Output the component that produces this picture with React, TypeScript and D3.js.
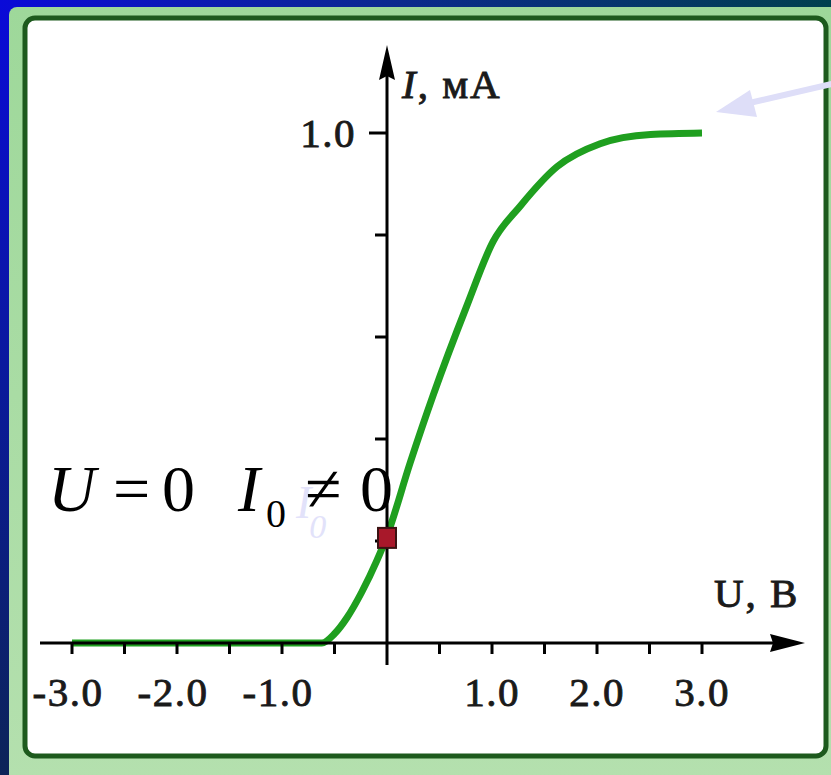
import React from "react";
import * as d3 from "d3";

// Voltage (U, V) and photocurrent (I, mA) samples along the characteristic curve
const uValues = [-3.0, -2.0, -1.0, -0.62, -0.5, -0.38, -0.24, -0.1, 0, 0.22, 0.44, 0.76, 1.01, 1.27, 1.62, 2.03, 2.51, 3.0];
const iValues = [0, 0, 0, 0, 0.018, 0.05, 0.1, 0.16, 0.21, 0.353, 0.486, 0.661, 0.787, 0.857, 0.934, 0.979, 0.997, 1.0];

// Current at zero voltage
const zeroVoltageCurrent = 0.21;

const xTickValues = [-3, -2.5, -2, -1.5, -1, -0.5, 0.5, 1, 1.5, 2, 2.5, 3];
const xTickLabels = ["-3.0", "-2.0", "-1.0", "1.0", "2.0", "3.0"];
const xLabelValues = [-3, -2, -1, 1, 2, 3];
const yTickValues = [0.2, 0.4, 0.6, 0.8, 1.0];
const yTickLabels = ["1.0"];
const yLabelValues = [1.0];

const W = 831;
const H = 775;

export default function App() {
  const x = d3.scaleLinear().domain([-3, 3]).range([72, 702]);
  const y = d3.scaleLinear().domain([0, 1]).range([643, 133]);

  const line = d3
    .line<number>()
    .x((_, i) => x(uValues[i]))
    .y((d) => y(d))
    .curve(d3.curveMonotoneX);

  const x0 = x(0);
  const y0 = y(0);
  const labelFont = "'Liberation Serif', 'Times New Roman', serif";
  const tickText = { fontFamily: labelFont, fontSize: 41, letterSpacing: 1.5, fill: "#1a1a1a", stroke: "#1a1a1a", strokeWidth: 0.9 };

  return (
    <svg width={W} height={H} style={{ position: "absolute", left: 0, top: 0 }}>
      <defs>
        <linearGradient id="bgTop" x1="0" y1="0" x2="1" y2="0">
          <stop offset="0" stopColor="#0a0ad8" />
          <stop offset="0.5" stopColor="#0a2a8a" />
          <stop offset="1" stopColor="#00404e" />
        </linearGradient>
        <linearGradient id="bgLeft" x1="0" y1="0" x2="0" y2="1">
          <stop offset="0" stopColor="#0a0ad8" />
          <stop offset="0.5" stopColor="#0a1a9a" />
          <stop offset="1" stopColor="#0c2458" />
        </linearGradient>
        <linearGradient id="frame" x1="0" y1="0" x2="0" y2="1">
          <stop offset="0" stopColor="#9ed89a" />
          <stop offset="1" stopColor="#b4e0ae" />
        </linearGradient>
      </defs>

      {/* slide background */}
      <rect x={0} y={0} width={W} height={H} fill="url(#bgLeft)" />
      <rect x={0} y={0} width={W} height={8} fill="url(#bgTop)" />

      {/* green frame */}
      <rect x={9} y={7} width={W} height={H} rx={8} fill="url(#frame)" />
      <rect x={25} y={18} width={801} height={738} rx={10} fill="#ffffff" stroke="#1d5a1d" strokeWidth={5} />

      {/* curve */}
      <path d={line(iValues) || ""} fill="none" stroke="#1f9f1f" strokeWidth={7} strokeLinejoin="round" strokeLinecap="butt" />

      {/* x axis */}
      <line x1={40} x2={790} y1={y0} y2={y0} stroke="#000" strokeWidth={3} />
      <path d={`M805,${y0} L770,${y0 - 9} L773,${y0} L770,${y0 + 9} Z`} fill="#000" />
      {xTickValues.map((v) => (
        <line key={v} x1={x(v)} x2={x(v)} y1={y0} y2={y0 + 11} stroke="#000" strokeWidth={3} />
      ))}
      {xLabelValues.map((v, i) => (
        <text key={v} x={x(v) - (v < 0 ? 4 : 0)} y={706} textAnchor="middle" {...tickText}>
          {xTickLabels[i]}
        </text>
      ))}

      {/* y axis */}
      <line x1={x0} x2={x0} y1={y0 + 22} y2={70} stroke="#000" strokeWidth={3} />
      <path d={`M${x0},45 L${x0 - 8},80 L${x0},76 L${x0 + 8},80 Z`} fill="#000" />
      {yTickValues.map((v) => (
        <line key={v} x1={x0 - (v === 1 ? 18 : 12)} x2={x0} y1={y(v)} y2={y(v)} stroke="#000" strokeWidth={3} />
      ))}
      {yLabelValues.map((v, i) => (
        <text key={v} x={356} y={y(v) + 14} textAnchor="end" {...tickText}>
          {yTickLabels[i]}
        </text>
      ))}

      {/* axis titles */}
      <text x={402} y={98} {...tickText} letterSpacing={2}>
        <tspan fontStyle="italic">I</tspan>, мА
      </text>
      <text x={714} y={607} {...tickText} letterSpacing={2}>
        U, В
      </text>

      {/* arrow pointing at saturation */}
      <line x1={840} y1={82} x2={745} y2={104} stroke="#dedef8" strokeWidth={6} />
      <path d="M716,112 L750,90 L757,117 Z" fill="#dedef8" />

      {/* faint I0 label */}
      <text x={296} y={518} fontFamily={labelFont} fontSize={46} fontStyle="italic" fill="#e2e2fa">
        I
        <tspan dx={-2} dy={20} fontSize={34}>0</tspan>
      </text>

      {/* formula */}
      <text y={511} fontFamily={labelFont} fontSize={66} fill="#000">
        <tspan x={48} fontStyle="italic">U</tspan>
        <tspan x={113}>=</tspan>
        <tspan x={162}>0</tspan>
        <tspan x={238} fontStyle="italic">I</tspan>
        <tspan x={266} y={527} fontSize={40}>0</tspan>
        <tspan x={305} y={511}>≠</tspan>
        <tspan x={360}>0</tspan>
      </text>

      {/* current at zero voltage */}
      <rect x={x0 - 9} y={y(zeroVoltageCurrent) - 8} width={18} height={20} fill="#a8182a" stroke="#3a1212" strokeWidth={2} />
    </svg>
  );
}
